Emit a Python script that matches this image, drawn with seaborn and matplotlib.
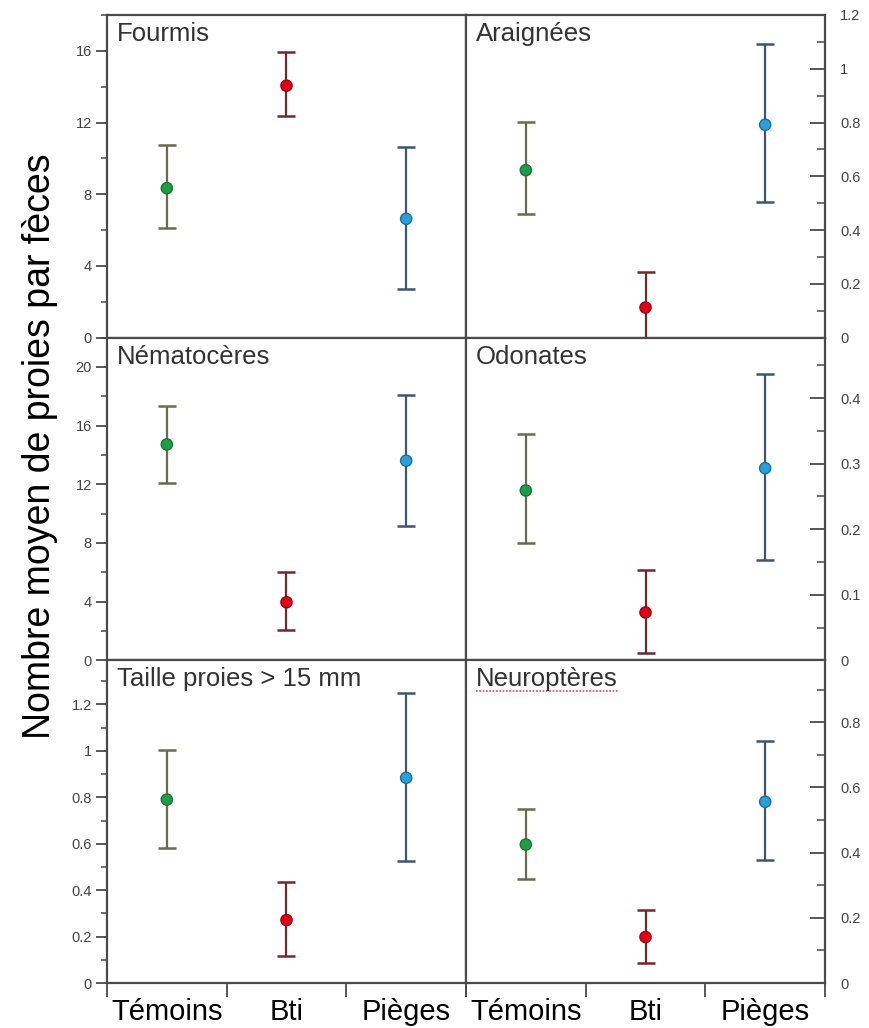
import numpy as np
import pandas as pd
import matplotlib
matplotlib.use("Agg")
import matplotlib.pyplot as plt
from matplotlib.ticker import MultipleLocator, FuncFormatter
import seaborn as sns

# ---------------- data ----------------
categories = ["Témoins", "Bti", "Pièges"]

fourmis_mean = [8.34, 14.06, 6.63]
fourmis_low = [6.10, 12.35, 2.70]
fourmis_high = [10.73, 15.94, 10.64]

araignees_mean = [0.623, 0.112, 0.792]
araignees_low = [0.459, 0.0, 0.503]
araignees_high = [0.801, 0.246, 1.092]

nemato_mean = [14.72, 3.96, 13.61]
nemato_low = [12.07, 2.04, 9.19]
nemato_high = [17.32, 6.02, 18.07]

odonates_mean = [0.259, 0.073, 0.293]
odonates_low = [0.179, 0.011, 0.153]
odonates_high = [0.345, 0.137, 0.437]

taille_mean = [0.790, 0.271, 0.884]
taille_low = [0.580, 0.116, 0.524]
taille_high = [1.003, 0.437, 1.248]

neuro_mean = [0.425, 0.141, 0.556]
neuro_low = [0.318, 0.060, 0.377]
neuro_high = [0.535, 0.225, 0.742]

panel_titles = ["Fourmis", "Araignées", "Nématocères", "Odonates",
                "Taille proies > 15 mm", "Neuroptères"]
y_label = "Nombre moyen de proies par fèces"

marker_colors = ["#1f9e46", "#e00018", "#2a9fd8"]
edge_colors = ["#17753a", "#a00012", "#1b6f9c"]
bar_colors = ["#6a6a4c", "#6e2a2c", "#3e5570"]

# ---------------- style ----------------
sns.set_theme(style="white")
plt.rcParams["font.family"] = ["Liberation Sans", "DejaVu Sans"]

spine_c = "#4a4a4a"
tick_label_c = "#444444"

fig = plt.figure(figsize=(8.69, 10.28), dpi=100)
gs = fig.add_gridspec(3, 2, left=107 / 869, right=825 / 869,
                      top=1 - 15 / 1028, bottom=1 - 983 / 1028,
                      hspace=0, wspace=0)

panels = [
    (fourmis_mean, fourmis_low, fourmis_high, 18.0, 4, 2),
    (araignees_mean, araignees_low, araignees_high, 1.2, 0.2, 0.1),
    (nemato_mean, nemato_low, nemato_high, 22.0, 4, 2),
    (odonates_mean, odonates_low, odonates_high, 0.492, 0.1, 0.05),
    (taille_mean, taille_low, taille_high, 1.39, 0.2, 0.1),
    (neuro_mean, neuro_low, neuro_high, 0.99, 0.2, 0.1),
]

fmt = FuncFormatter(lambda v, p: f"{v:g}")
axes = []
for i, (mean, low, high, ymax, major, minor) in enumerate(panels):
    row, col = divmod(i, 2)
    ax = fig.add_subplot(gs[row, col])
    axes.append(ax)
    df = pd.DataFrame({"cat": categories, "mean": mean,
                       "low": low, "high": high})
    # error bars
    for j in range(len(categories)):
        ax.errorbar([j], [df["mean"][j]],
                    yerr=[[df["mean"][j] - df["low"][j]],
                          [df["high"][j] - df["mean"][j]]],
                    fmt="none", ecolor=bar_colors[j], elinewidth=1.6,
                    capsize=6.5, capthick=1.8, zorder=2)
    sns.scatterplot(data=df, x=np.arange(len(categories)), y="mean",
                    hue="cat", palette=marker_colors, s=65,
                    edgecolor=edge_colors, linewidth=1.0,
                    legend=False, ax=ax, zorder=3)
    ax.set_xlim(-0.5, 2.5)
    ax.set_ylim(0, ymax)
    ax.set_xlabel("")
    ax.set_ylabel("")
    for s in ax.spines.values():
        s.set_visible(True)
        s.set_color(spine_c)
        s.set_linewidth(1.6)
    ax.yaxis.set_major_locator(MultipleLocator(major))
    ax.yaxis.set_minor_locator(MultipleLocator(minor))
    ax.yaxis.set_major_formatter(fmt)
    if col == 0:
        ax.tick_params(axis="y", which="major", direction="out", length=8,
                       width=1.3, color=spine_c, labelsize=10.5,
                       labelcolor=tick_label_c, pad=3, left=True, right=False)
        ax.tick_params(axis="y", which="minor", direction="out", length=4,
                       width=1.1, color=spine_c, left=True, right=False)
    else:
        ax.yaxis.tick_right()
        ax.tick_params(axis="y", which="major", direction="in", length=11,
                       width=1.3, color=spine_c, labelsize=10.5,
                       labelcolor=tick_label_c, pad=11, left=False, right=True,
                       labelleft=False, labelright=True)
        ax.tick_params(axis="y", which="minor", direction="in", length=6,
                       width=1.1, color=spine_c, left=False, right=True)
    # x axis
    ax.set_xticks([-0.5, 0.5, 1.5, 2.5])
    ax.set_xticks([0, 1, 2], minor=True)
    if row == 2:
        ax.set_xticklabels([])
        ax.set_xticklabels(categories, minor=True)
        ax.tick_params(axis="x", which="major", direction="out", length=10,
                       width=1.3, color=spine_c, bottom=True)
        ax.tick_params(axis="x", which="minor", length=0, labelsize=21,
                       labelcolor="black", pad=11, bottom=True)
    else:
        ax.tick_params(axis="x", which="both", bottom=False,
                       labelbottom=False)
    ax.text(0.028, 0.978, panel_titles[i], transform=ax.transAxes,
            ha="left", va="top", fontsize=18.5, color="#333333")

fig.text(40 / 869, 1 - 446 / 1028, y_label, rotation=90, ha="center",
         va="center", fontsize=27, color="black")

# spell-check style wavy underline under "Neuroptères"
fig.canvas.draw()
t = [tx for tx in axes[5].texts][0]
bb = t.get_window_extent(renderer=fig.canvas.get_renderer())
inv = axes[5].transAxes.inverted()
(x0, y0), (x1, y1) = inv.transform([[bb.x0, bb.y0], [bb.x1, bb.y1]])
axes[5].plot([x0, x1], [y0 + 0.002, y0 + 0.002], transform=axes[5].transAxes,
             color="#e05050", lw=1.2, ls=(0, (1, 1)), clip_on=False)

fig.savefig("out.png", dpi=100)
